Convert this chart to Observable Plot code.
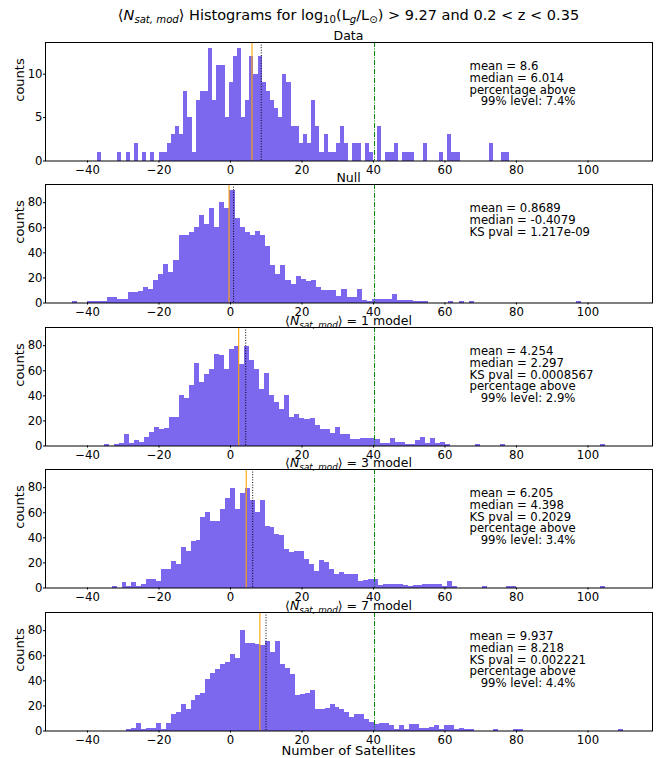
<!DOCTYPE html>
<html><head><meta charset="utf-8">
<script src="https://cdn.jsdelivr.net/npm/d3@7"></script>
<script src="https://cdn.jsdelivr.net/npm/@observablehq/plot@0.6"></script>
<style>
body{margin:0;background:#fff;font-family:"DejaVu Sans";}
#chart{position:relative;width:659px;height:758px;overflow:hidden;background:#fff;}
#chart svg{position:absolute;left:0;}
</style></head><body><div id="chart"></div>
<script>
// ---------- data ----------
const xTicks = [-40, -20, 0, 20, 40, 60, 80, 100];
const yTicksData = [0, 5, 10];
const yTicksModel = [0, 20, 40, 60, 80];
const panelNames = ["Data", "Null", "1", "3", "7"];

// histogram counts (100 bins each) and the bin range [lo, hi]
const dataCounts = [1,0,0,0,0,1,0,1,0,2, 0,1,0,1,0,1,1,2,3,4, 3,8,5,1,7,8,8,13,7,11, 11,5,9,12,13,5,7,12,10,12,
  9,8,7,6,5,10,9,4,4,2, 3,2,7,4,1,3,1,1,2,4, 2,0,2,2,0,2,1,0,4,0, 1,1,2,0,1,1,1,0,0,2, 0,0,0,1,0,3,1,1,0,0, 0,0,0,0,0,2,0,0,1,1];
const dataRange = [-37.3, 78.1];
const nullCounts = [1,0,0,1,1,1,1,4,4,3, 3,8,8,9,12,11,18,23,31,24, 34,54,54,56,60,70,63,75,60,80, 75,90,67,60,56,54,57,54,45,30,
  23,30,18,15,21,19,17,18,12,10, 10,10,5,11,4,4,11,2,1,3, 3,3,3,7,2,2,2,1,1,1, 0,0,0,0,1,0,1,0,1,0, 0,0,0,0,0,0,0,0,0,0, 0,0,0,0,0,0,0,0,0,1];
const nullRange = [-44.3, 98.1];
const model1Counts = [1,0,1,2,9,2,4,3,7,11, 15,13,14,23,23,40,38,48,66,51, 57,61,73,72,61,77,79,65,79,68, 61,45,58,40,35,29,40,23,25,22,
  21,22,16,13,13,10,15,9,9,5, 5,6,6,6,5,2,2,6,3,3, 1,1,4,7,2,6,2,3,1,0, 0,0,0,0,1,0,0,0,0,1, 0,0,0,0,0,0,0,0,0,0, 0,0,0,0,0,0,0,0,0,1];
const model1Range = [-35.2, 104.9];
const model3Counts = [1,0,4,1,4,1,3,7,7,5, 15,15,21,19,32,29,37,38,56,60, 53,53,63,71,79,63,75,79,70,60, 70,49,48,43,42,31,28,29,29,23,
  19,13,22,20,15,11,12,11,11,11, 5,6,7,7,2,3,3,3,3,2, 1,2,2,3,3,3,3,1,5,1, 0,0,0,0,0,1,0,0,0,0, 1,1,0,0,0,0,0,0,0,0, 0,0,0,0,0,0,0,0,0,1];
const model3Range = [-33.1, 104.9];
const model7Counts = [1,2,6,1,2,2,6,1,6,13, 15,21,17,24,28,30,41,46,49,53, 55,61,58,80,70,70,69,68,71,63, 71,53,50,45,28,29,30,32,17,17,
  18,21,19,17,15,11,13,13,9,7, 5,6,6,4,1,4,1,5,5,2, 2,3,4,1,4,4,1,2,1,1, 0,0,0,0,1,0,0,0,1,1, 0,0,0,0,0,0,0,0,0,0, 0,0,0,0,0,0,0,0,0,1];
const model7Range = [-29.1, 109.8];

const means = ["8.6", "0.8689", "4.254", "6.205", "9.937"];
const medians = ["6.014", "-0.4079", "2.297", "4.398", "8.218"];
const ksPvals = [null, "1.217e-09", "0.0008567", "0.2029", "0.002221"];
const pctAbove = ["7.4%", null, "2.9%", "3.4%", "4.4%"];
const level99 = 40.3;

// ---------- layout ----------
const W = 659, ML = 45, MR = 7, MT = 26, FH = 118.5;
const frameTops = [41.7, 184.2, 326.7, 469.2, 611.7];
const xDomain = [-51.75, 118.05];
const barColor = "#7b68ee";
const FONT = "DejaVu Sans";
const cx = ML + (W - ML - MR) / 2;

const allCounts = [dataCounts, nullCounts, model1Counts, model3Counts, model7Counts];
const allRanges = [dataRange, nullRange, model1Range, model3Range, model7Range];
const yMaxes = [13.65, 94.5, 94.5, 94.5, 94.5];

function richText(sel, segs, size) {
  segs.forEach(s => {
    const t = sel.append("tspan").text(s.t);
    if (s.i) t.attr("font-style", "italic");
    if (s.sub) t.attr("font-size", (size * 0.7).toFixed(2) + "px").attr("baseline-shift", (-size * 0.22).toFixed(2) + "px");
  });
}
function nsatSegs() { return [{t: "\u27e8"}, {t: "N", i: true}, {t: "sat, mod", i: true, sub: true}, {t: "\u27e9"}]; }

const chart = document.getElementById("chart");

// main title
const tsvg = d3.create("svg").attr("width", W).attr("height", 32).style("top", "0px");
const tt = tsvg.append("text").attr("x", cx).attr("y", 20).attr("text-anchor", "middle")
  .attr("font-family", FONT).attr("font-size", "14.5px").attr("fill", "black");
richText(tt, [...nsatSegs(), {t: " Histograms for log"}, {t: "10", sub: true}, {t: "(L"}, {t: "g", i: true, sub: true},
  {t: "/L"}, {t: "\u2299", sub: true}, {t: ") > 9.27 and 0.2 < z < 0.35"}], 14.5);
chart.appendChild(tsvg.node());

allCounts.forEach((counts, k) => {
  const [lo, hi] = allRanges[k];
  const w = (hi - lo) / counts.length;
  const bins = counts.map((c, i) => ({x1: lo + i * w, x2: lo + (i + 1) * w, c})).filter(d => d.c > 0);
  const MB = k === 4 ? 32 : 22;
  let stats = `mean = ${means[k]}\nmedian = ${medians[k]}`;
  if (ksPvals[k]) stats += `\nKS pval = ${ksPvals[k]}`;
  if (pctAbove[k]) stats += `\npercentage above\n\u00a0\u00a0\u00a099% level: ${pctAbove[k]}`;
  const svg = Plot.plot({
    width: W, height: MT + FH + MB,
    marginLeft: ML, marginRight: MR, marginTop: MT, marginBottom: MB,
    style: {background: "transparent", fontFamily: FONT, fontSize: "11.7px", color: "black", overflow: "visible"},
    x: {domain: xDomain},
    y: {domain: [0, yMaxes[k]]},
    marks: [
      Plot.rect(bins, {x1: "x1", x2: "x2", y1: 0, y2: "c", fill: barColor, inset: 0, shapeRendering: "crispEdges"}),
      Plot.ruleX([+medians[k]], {stroke: "orange", strokeWidth: 1.1}),
      Plot.ruleX([+means[k]], {stroke: "black", strokeWidth: 1, strokeDasharray: "1,1.6"}),
      Plot.ruleX([level99], {stroke: "green", strokeWidth: 1, strokeDasharray: "5,1.5,1,1.5"}),
      Plot.frame({stroke: "black", strokeWidth: 1}),
      Plot.axisX({ticks: xTicks, tickSize: 2, tickPadding: 2.5, label: null, fontSize: 11.7}),
      Plot.axisY({ticks: k === 0 ? yTicksData : yTicksModel, tickSize: 2, tickPadding: 1, label: null, fontSize: 11.7}),
      Plot.text([stats], {frameAnchor: "top-left", dx: 424, dy: 19.3, lineAnchor: "top", textAnchor: "start", lineHeight: 1, fontSize: 11.7, fill: "black"}),
      Plot.text(["counts"], {frameAnchor: "left", dx: -25.7, rotate: -90, fontSize: 13, fill: "black"})
    ]
  });
  svg.style.top = (frameTops[k] - MT) + "px";
  const s = d3.select(svg);
  const pt = s.append("text").attr("x", cx).attr("y", MT - 1.8).attr("text-anchor", "middle")
    .attr("font-family", FONT).attr("font-size", "12.5px").attr("fill", "black");
  if (k === 0) pt.text("Data");
  else if (k === 1) pt.text("Null");
  else richText(pt, [...nsatSegs(), {t: ` = ${panelNames[k]} model`}], 12.5);
  if (k === 4) {
    s.append("text").attr("x", cx).attr("y", MT + FH + 24.3).attr("text-anchor", "middle")
      .attr("font-family", FONT).attr("font-size", "13.1px").attr("fill", "black").text("Number of Satellites");
  }
  chart.appendChild(svg);
});
</script></body></html>
